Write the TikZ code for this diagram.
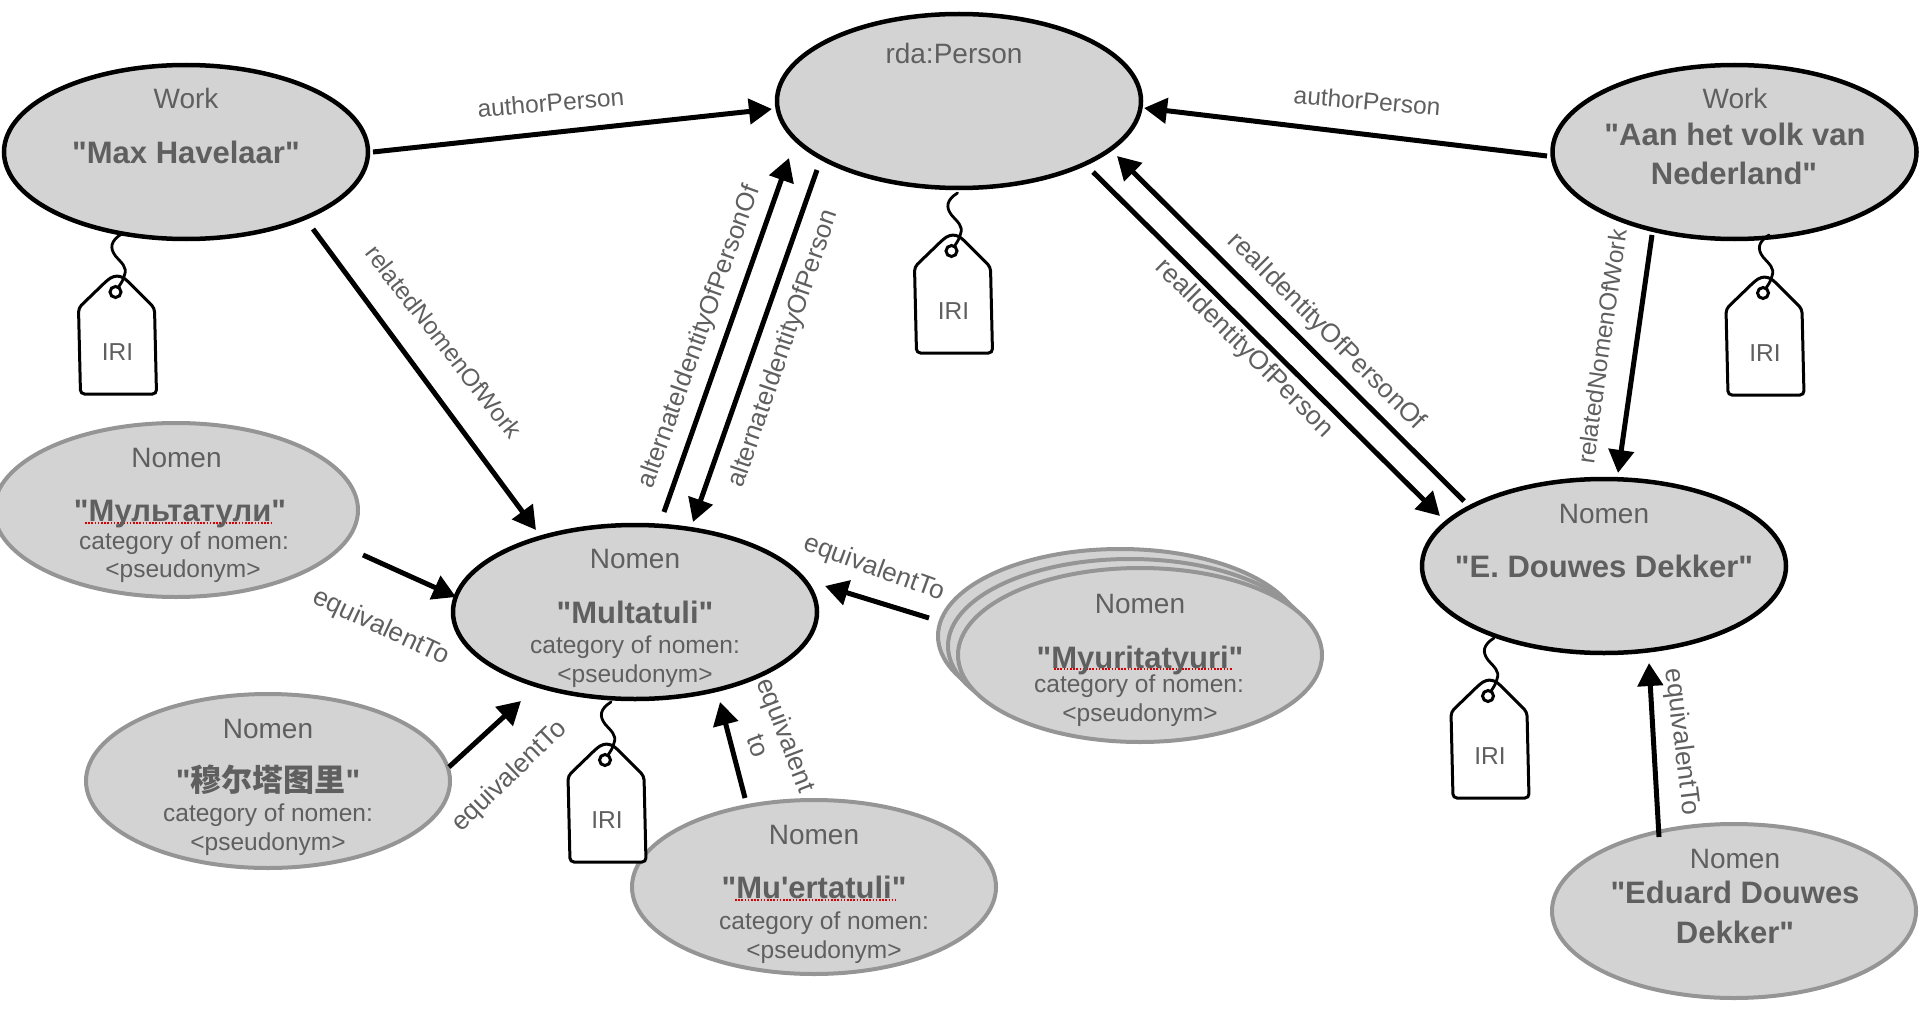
\documentclass[tikz,border=0pt]{standalone}
\usepackage{fontspec}
\setmainfont{Liberation Sans}[Ligatures=TeXOff]
\newfontfamily\cjk{Noto Sans CJK SC}[Ligatures=TeXOff]
\usetikzlibrary{shapes.geometric,arrows.meta}
\definecolor{fillg}{HTML}{D3D3D3}
\definecolor{strokeg}{HTML}{959595}
\definecolor{txt}{HTML}{5F5F5F}
\tikzset{
  main/.style={ellipse,draw=black,fill=fillg,line width=4.5pt,minimum width=364pt,minimum height=174pt,inner sep=0pt,outer sep=0pt},
  alt/.style={ellipse,draw=strokeg,fill=fillg,line width=4pt,minimum width=364pt,minimum height=174pt,inner sep=0pt,outer sep=0pt},
  arr/.style={draw=black,line width=5pt,-{Triangle[length=23pt,width=25pt]}},
  cls/.style={text=txt,inner sep=0pt,anchor=base,yshift=-10pt,font=\fontsize{28}{32}\selectfont},
  nam/.style={text=txt,inner sep=0pt,anchor=base,yshift=-11pt,font=\fontsize{31}{36}\selectfont\bfseries},
  sub/.style={text=txt,inner sep=0pt,anchor=base,yshift=-8pt,font=\fontsize{24.5}{28}\selectfont},
  lbl/.style={text=txt,inner sep=0pt,anchor=center,text height=13pt,text depth=0pt,font=\fontsize{24.5}{28}\selectfont},
  lblw/.style={text=txt,inner sep=0pt,anchor=center,text height=13pt,text depth=0pt,font=\fontsize{26.3}{30}\selectfont},
  lbla/.style={text=txt,inner sep=0pt,anchor=center,text height=13pt,text depth=0pt,font=\fontsize{25.7}{30}\selectfont},
  spell/.style={draw=red!85!black,line width=1.6pt,dash pattern=on 1.6pt off 1.6pt},
  tagp/.pic={
    \draw[black,line width=3pt,fill=white,rounded corners=4pt]
      (-37,32) -- (-8,4) -- (-2,0) -- (5,0) -- (10,3) -- (39,32) -- (41,118) -- (-35,118) -- cycle;
    \draw[black,line width=3pt] (0,16) circle (5.5);
    \draw[black,line width=2.8pt,line cap=round] (6,-42) .. controls (-5,-35) and (-6,-28) .. (0,-20) .. controls (6,-13) and (12,-9) .. (9,-1) .. controls (8,4) and (5,8) .. (3,11);
    \node[lbl] (-iri) at (2,78) {IRI};
  }
}
\begin{document}
\begin{tikzpicture}[x=1pt,y=-1pt]
\useasboundingbox (0,0) rectangle (1922,1014);
% ellipses
\node[main] (max) at (186,152) {};
\node[main] (per) at (959,101) {};
\node[main] (aan) at (1734.5,152) {};
\node[main] (edd) at (1604,566) {};
\node[main] (mul) at (635,612) {};
\node[alt] (rus) at (176,510) {};
\node[alt] (chn) at (268,781) {};
\node[alt] (mue) at (814,887) {};
\node[alt] (myc) at (1120,636) {};
\node[alt] (myb) at (1130,646) {};
\node[alt] (myu) at (1140,655) {};
\node[alt] (edu) at (1734,911) {};
% connectors
\draw[arr] ([shift={(187,0)}]max.center) -- ([shift={(-187,8)}]per.center);
\draw[arr] ([shift={(-187.5,4)}]aan.center) -- ([shift={(185,7)}]per.center);
\draw[arr] ([shift={(127,77)}]max.center) -- ([shift={(-99,-82)}]mul.center);
\draw[arr] ([shift={(29,-100)}]mul.center) -- ([shift={(-170,57)}]per.center);
\draw[arr] ([shift={(-142,69)}]per.center) -- ([shift={(58,-90)}]mul.center);
\draw[arr] ([shift={(134,71)}]per.center) -- ([shift={(-164,-50)}]edd.center);
\draw[arr] ([shift={(-140,-65)}]edd.center) -- ([shift={(158,55)}]per.center);
\draw[arr] ([shift={(-82.5,83)}]aan.center) -- ([shift={(14,-93)}]edd.center);
\draw[arr] ([shift={(187,45)}]rus.center) -- ([shift={(-179,-15)}]mul.center);
\draw[arr] ([shift={(181,-14)}]chn.center) -- ([shift={(-114,89)}]mul.center);
\draw[arr] ([shift={(-69,-89)}]mue.center) -- ([shift={(85,90)}]mul.center);
\draw[arr] ([shift={(-211,-37)}]myu.center) -- ([shift={(190,-26)}]mul.center);
\draw[arr] ([shift={(-75,-74)}]edu.center) -- ([shift={(45,97)}]edd.center);
% tags
\pic (t1) at (115.5,276) {tagp};
\pic (t2) at (951.5,235) {tagp};
\pic (t3) at (1763,277) {tagp};
\pic (t4) at (605,744) {tagp};
\pic (t5) at (1488,680) {tagp};
% spell-check underlines
\draw[spell] (85,523) -- (273,523);
\draw[spell] (735,900) -- (896,900);
\draw[spell] (1054,669) -- (1232,669);
% ellipse texts
\node[cls] (maxa) at (186,99) {Work};
\node[nam] (maxb) at (186,153) {"Max Havelaar"};
\node[cls] (pera) at (954,54) {rda:Person};
\node[cls] (aana) at (1735,99) {Work};
\node[nam] (aanb) at (1735,135) {"Aan het volk van};
\node[nam] (aanc) at (1734,173) {Nederland"};
\node[cls] (edda) at (1604,513) {Nomen};
\node[nam] (eddb) at (1604,566) {"E. Douwes Dekker"};
\node[cls] (mula) at (635,558) {Nomen};
\node[nam] (mulb) at (635,612) {"Multatuli"};
\node[sub] (mulc) at (635,645) {category of nomen:};
\node[sub] (muld) at (635,674) {<pseudonym>};
\node[cls] (rusa) at (176.5,457) {Nomen};
\node[nam] (rusb) at (180,510) {"Мультатули"};
\node[sub] (rusc) at (184,541) {category of nomen:};
\node[sub] (rusd) at (183,569) {<pseudonym>};
\node[cls] (chna) at (268,728) {Nomen};
\node[nam] (chnb) at (268,780) {"{\cjk 穆尔塔图里}"};
\node[sub] (chnc) at (268,813) {category of nomen:};
\node[sub] (chnd) at (268,842) {<pseudonym>};
\node[cls] (muea) at (814,834) {Nomen};
\node[nam] (mueb) at (814,887) {"Mu'ertatuli"};
\node[sub] (muec) at (824,921) {category of nomen:};
\node[sub] (mued) at (824,950) {<pseudonym>};
\node[cls] (myua) at (1140,603) {Nomen};
\node[nam] (myub) at (1140,657) {"Myuritatyuri"};
\node[sub] (myuc) at (1139,684) {category of nomen:};
\node[sub] (myud) at (1140,713) {<pseudonym>};
\node[cls] (edua) at (1735,858) {Nomen};
\node[nam] (edub) at (1735,892) {"Eduard Douwes};
\node[nam] (educ) at (1735,932) {Dekker"};
% connector labels
\node[lbl,rotate=5] (l1) at (551,105) {authorPerson};
\node[lbl,rotate=-5] (l2) at (1367,103) {authorPerson};
\node[lbl,rotate=-52] (l3) at (442,343) {relatedNomenOfWork};
\node[lbla,rotate=70.3] (l4) at (700,337) {alternateIdentityOfPersonOf};
\node[lbla,rotate=71] (l5) at (784,349) {alternateIdentityOfPerson};
\node[lblw,rotate=-45] (l6) at (1326,332) {realIdentityOfPersonOf};
\node[lblw,rotate=-45] (l7) at (1244,349) {realIdentityOfPerson};
\node[lbl,rotate=82] (l8) at (1604,347) {relatedNomenOfWork};
\node[lblw,rotate=-25] (l9) at (381,628) {equivalentTo};
\node[lblw,rotate=44] (l10) at (510,777) {equivalentTo};
\node[lblw,rotate=-20] (l11) at (874,569) {equivalentTo};
\node[lblw,rotate=-69,text height=,align=center,text depth=] (l12) at (773,740) {equivalent\\to};
\node[lblw,rotate=-83] (l13) at (1681,742) {equivalentTo};
\end{tikzpicture}
\end{document}
